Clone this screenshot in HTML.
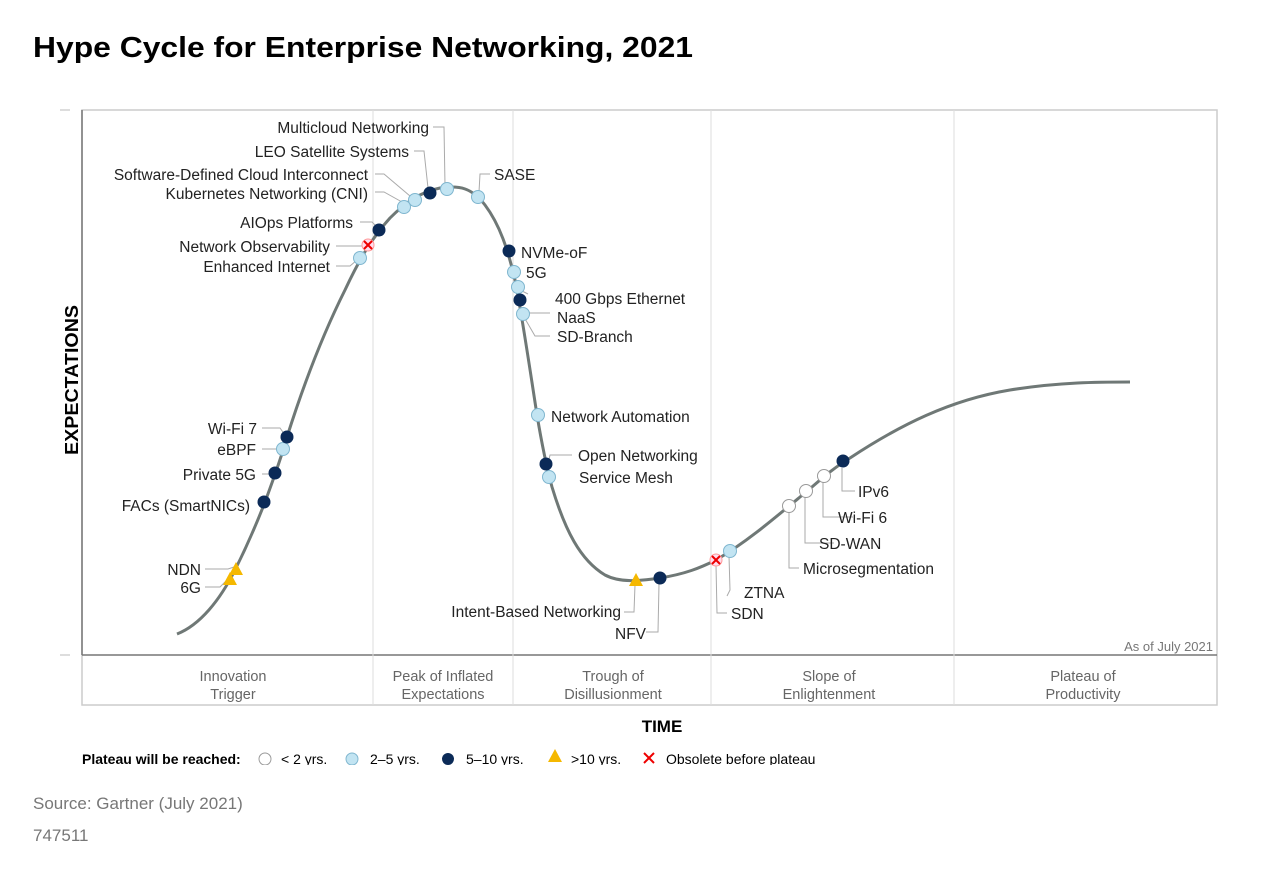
<!DOCTYPE html>
<html><head><meta charset="utf-8"><style>
body{margin:0;background:#fff;}
svg text{font-family:"Liberation Sans",sans-serif;}
</style></head><body>
<svg width="1280" height="871" viewBox="0 0 1280 871" xmlns="http://www.w3.org/2000/svg">
<text x="33" y="57" font-size="29" font-weight="bold" fill="#000" textLength="660" lengthAdjust="spacingAndGlyphs">Hype Cycle for Enterprise Networking, 2021</text>
<!-- frame -->
<rect x="82" y="110" width="1135" height="595" fill="none" stroke="#ccc" stroke-width="1.5"/>
<line x1="82" y1="655" x2="1217" y2="655" stroke="#777" stroke-width="1.5"/>
<line x1="82" y1="110" x2="82" y2="655" stroke="#777" stroke-width="1.5"/>
<line x1="60" y1="110" x2="70" y2="110" stroke="#bbb"/>
<line x1="60" y1="655" x2="70" y2="655" stroke="#bbb"/>
<g stroke="#ddd" stroke-width="1">
<line x1="373" y1="110" x2="373" y2="705"/><line x1="513" y1="110" x2="513" y2="705"/>
<line x1="711" y1="110" x2="711" y2="705"/><line x1="954" y1="110" x2="954" y2="705"/>
</g>
<text x="1213" y="651" font-size="13" fill="#777" text-anchor="end">As of July 2021</text>
<g font-size="14.5" fill="#666" text-anchor="middle">
<text x="233" y="681">Innovation</text><text x="233" y="699">Trigger</text>
<text x="443" y="681">Peak of Inflated</text><text x="443" y="699">Expectations</text>
<text x="613" y="681">Trough of</text><text x="613" y="699">Disillusionment</text>
<text x="829" y="681">Slope of</text><text x="829" y="699">Enlightenment</text>
<text x="1083" y="681">Plateau of</text><text x="1083" y="699">Productivity</text>
</g>
<text x="662" y="732" font-size="17" font-weight="bold" text-anchor="middle">TIME</text>
<text transform="translate(78,380) rotate(-90)" font-size="18" font-weight="bold" text-anchor="middle" textLength="150" lengthAdjust="spacingAndGlyphs">EXPECTATIONS</text>
<!-- curve -->
<path d="M177,634 C200,625 220,600 235,570 C250,540 258,520 265,502 C275,475 282,455 287,437 C305,380 325,330 345,290 C360,258 372,238 390,218 C405,203 420,192 440,188 C460,185 472,188 485,205 C500,225 508,250 515,280 C522,315 530,370 537,415 C542,445 546,465 552,487 C565,530 580,560 605,575 C620,583 640,581 660,578 C685,574 700,568 716,560 C745,543 770,522 800,497 C815,485 830,470 850,458 C900,425 950,400 1010,390 C1060,382 1100,382 1130,382" fill="none" stroke="#6f7876" stroke-width="3"/>
<!-- leader lines -->
<g stroke="#aaa" stroke-width="1" fill="none">
<polyline points="433,127 444,127 445,185"/>
<polyline points="414,151 424,151 428,188"/>
<polyline points="375,174 384,174 410,196"/>
<polyline points="375,192 384,192 402,202"/>
<polyline points="360,222 372,222 376,226"/>
<polyline points="336,246 362,246"/>
<polyline points="336,266 350,266 357,260"/>
<polyline points="490,174 480,174 479,192"/>
<polyline points="262,428 280,428 285,435"/>
<polyline points="262,449 279,449"/>
<polyline points="262,474 272,474"/>
<polyline points="205,569 228,569 234,567"/>
<polyline points="205,587 220,587 228,579"/>
<polyline points="528,294 520,290"/>
<polyline points="550,313 530,313 524,310"/>
<polyline points="550,336 535,336 524,317"/>
<polyline points="548,464 550,455 572,455"/>
<polyline points="624,612 634,612 635,585"/>
<polyline points="646,632 658,632 659,584"/>
<polyline points="727,596 730,590 729,556"/>
<polyline points="727,613 717,613 716,565"/>
<polyline points="799,568 789,568 789,512"/>
<polyline points="834,543 805,543 805,497"/>
<polyline points="853,517 823,517 823,482"/>
<polyline points="855,491 842,491 842,468"/>
</g>
<!-- labels -->
<g font-size="15.5" fill="#222">
<text x="429" y="133" text-anchor="end">Multicloud Networking</text>
<text x="409" y="157" text-anchor="end">LEO Satellite Systems</text>
<text x="368" y="180" text-anchor="end">Software-Defined Cloud Interconnect</text>
<text x="368" y="199" text-anchor="end">Kubernetes Networking (CNI)</text>
<text x="353" y="228" text-anchor="end">AIOps Platforms</text>
<text x="330" y="252" text-anchor="end">Network Observability</text>
<text x="330" y="272" text-anchor="end">Enhanced Internet</text>
<text x="494" y="180">SASE</text>
<text x="521" y="258">NVMe-oF</text>
<text x="526" y="278">5G</text>
<text x="555" y="304">400 Gbps Ethernet</text>
<text x="557" y="323">NaaS</text>
<text x="557" y="342">SD-Branch</text>
<text x="551" y="422">Network Automation</text>
<text x="578" y="461">Open Networking</text>
<text x="579" y="483">Service Mesh</text>
<text x="257" y="434" text-anchor="end">Wi-Fi 7</text>
<text x="256" y="455" text-anchor="end">eBPF</text>
<text x="256" y="480" text-anchor="end">Private 5G</text>
<text x="250" y="511" text-anchor="end">FACs (SmartNICs)</text>
<text x="201" y="575" text-anchor="end">NDN</text>
<text x="201" y="593" text-anchor="end">6G</text>
<text x="621" y="617" text-anchor="end">Intent-Based Networking</text>
<text x="646" y="639" text-anchor="end">NFV</text>
<text x="744" y="598">ZTNA</text>
<text x="731" y="619">SDN</text>
<text x="803" y="574">Microsegmentation</text>
<text x="819" y="549">SD-WAN</text>
<text x="838" y="523">Wi-Fi 6</text>
<text x="858" y="497">IPv6</text>
</g>
<!-- markers -->
<g stroke="#7fb6cf" stroke-width="1" fill="#c2e4f2">
<circle cx="447" cy="189" r="6.5"/><circle cx="415" cy="200" r="6.5"/><circle cx="404" cy="207" r="6.5"/>
<circle cx="478" cy="197" r="6.5"/><circle cx="360" cy="258" r="6.5"/><circle cx="514" cy="272" r="6.5"/>
<circle cx="518" cy="287" r="6.5"/><circle cx="523" cy="314" r="6.5"/><circle cx="538" cy="415" r="6.5"/>
<circle cx="549" cy="477" r="6.5"/><circle cx="283" cy="449" r="6.5"/><circle cx="730" cy="551" r="6.5"/>
</g>
<g fill="#0b2a57">
<circle cx="430" cy="193" r="6.5"/><circle cx="379" cy="230" r="6.5"/><circle cx="509" cy="251" r="6.5"/>
<circle cx="520" cy="300" r="6.5"/><circle cx="546" cy="464" r="6.5"/><circle cx="287" cy="437" r="6.5"/>
<circle cx="275" cy="473" r="6.5"/><circle cx="264" cy="502" r="6.5"/><circle cx="660" cy="578" r="6.5"/>
<circle cx="843" cy="461" r="6.5"/>
</g>
<g fill="#fff" stroke="#999" stroke-width="1">
<circle cx="789" cy="506" r="6.5"/><circle cx="806" cy="491" r="6.5"/><circle cx="824" cy="476" r="6.5"/>
</g>
<g fill="#f5b800">
<polygon points="236,562 243,575 229,575"/><polygon points="230,572 237,585 223,585"/><polygon points="636,573 643,586 629,586"/>
</g>
<g>
<circle cx="368" cy="245" r="6" fill="#fde" stroke="#f99"/>
<path d="M364,241 L372,249 M372,241 L364,249" stroke="#e00" stroke-width="2"/>
<circle cx="716" cy="560" r="6" fill="#fde" stroke="#f99"/>
<path d="M712,556 L720,564 M720,556 L712,564" stroke="#e00" stroke-width="2"/>
</g>
<!-- legend -->
<text x="82" y="764" font-size="14" font-weight="bold">Plateau will be reached:</text>
<circle cx="265" cy="759" r="6" fill="#fff" stroke="#999"/>
<text x="281" y="764" font-size="14">&lt; 2 yrs.</text>
<circle cx="352" cy="759" r="6" fill="#c2e4f2" stroke="#7fb6cf"/>
<text x="370" y="764" font-size="14">2–5 yrs.</text>
<circle cx="448" cy="759" r="6" fill="#0b2a57"/>
<text x="466" y="764" font-size="14">5–10 yrs.</text>
<polygon points="555,749 562,762 548,762" fill="#f5b800"/>
<text x="571" y="764" font-size="14">&gt;10 yrs.</text>
<path d="M644,753 L654,763 M654,753 L644,763" stroke="#e00" stroke-width="2"/>
<text x="666" y="764" font-size="14">Obsolete before plateau</text>
<rect x="60" y="765" width="800" height="10" fill="#fff"/>
<text x="33" y="809" font-size="17" fill="#777">Source: Gartner (July 2021)</text>
<text x="33" y="841" font-size="17" fill="#777">747511</text>
</svg>
</body></html>
